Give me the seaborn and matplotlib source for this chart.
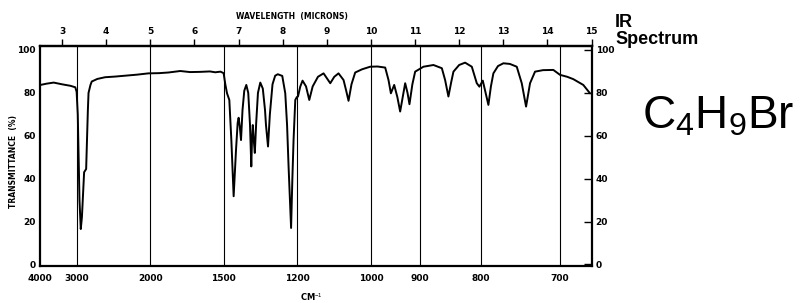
import numpy as np
import pandas as pd
import matplotlib
matplotlib.use("Agg")
import matplotlib.pyplot as plt
import seaborn as sns

# spectrum: wavelength (microns) and transmittance (%)
wavelength = [2.51, 2.65, 2.81, 3.00, 3.19, 3.30, 3.33, 3.356, 3.375, 3.395, 3.424, 3.45,
              3.469, 3.50, 3.546, 3.565, 3.585, 3.60, 3.644, 3.673, 3.80, 3.976, 4.20, 4.429,
              4.70, 4.957, 5.20, 5.41, 5.68, 5.90, 6.135, 6.35, 6.474, 6.59, 6.662, 6.70,
              6.739, 6.791, 6.837, 6.889, 6.943, 6.98, 7.002, 7.03, 7.056, 7.09, 7.13, 7.176,
              7.22, 7.26, 7.289, 7.305, 7.323, 7.345, 7.369, 7.40, 7.44, 7.493, 7.55, 7.60,
              7.622, 7.668, 7.71, 7.77, 7.83, 7.89, 7.991, 8.059, 8.10, 8.134, 8.191, 8.22,
              8.247, 8.286, 8.32, 8.347, 8.40, 8.451, 8.53, 8.603, 8.68, 8.80, 8.927, 9.079,
              9.17, 9.266, 9.38, 9.44, 9.493, 9.56, 9.644, 9.80, 9.984, 10.15, 10.324, 10.399,
              10.453, 10.528, 10.60, 10.663, 10.72, 10.777, 10.83, 10.874, 10.94, 11.003, 11.191, 11.418,
              11.608, 11.682, 11.757, 11.82, 11.871, 12.00, 12.135, 12.287, 12.40, 12.459, 12.536, 12.60,
              12.663, 12.72, 12.776, 12.88, 13.003, 13.15, 13.306, 13.419, 13.517, 13.607, 13.72, 13.90,
              14.135, 14.287, 14.45, 14.588, 14.814, 14.966]
transmittance = [83.7, 84.3, 84.8, 84.0, 83.3, 82.6, 80.5, 70.0, 50.0, 30.0, 16.5, 22.0,
                 30.0, 43.0, 44.5, 58.0, 72.0, 80.0, 83.7, 85.3, 86.5, 87.3, 87.6, 88.0,
                 88.5, 89.1, 89.2, 89.5, 90.2, 89.7, 89.8, 90.0, 89.6, 89.9, 89.2, 84.0,
                 79.8, 76.7, 58.0, 31.8, 53.5, 66.0, 68.4, 64.0, 58.0, 72.0, 81.0, 83.7,
                 80.0, 65.0, 45.7, 58.0, 65.0, 58.0, 52.0, 66.0, 80.0, 84.8, 82.0, 72.0,
                 65.0, 55.0, 70.0, 84.0, 88.0, 88.7, 87.9, 79.8, 65.0, 45.7, 17.0, 40.0,
                 58.0, 76.7, 78.0, 78.3, 83.0, 85.7, 83.0, 76.7, 83.0, 87.5, 89.1, 84.5,
                 87.5, 89.1, 86.0, 81.0, 76.3, 84.0, 89.5, 91.0, 92.2, 92.3, 91.8, 86.0,
                 79.8, 83.7, 78.0, 71.3, 78.0, 84.5, 80.0, 74.7, 84.0, 89.9, 92.2, 93.0,
                 91.5, 86.0, 78.3, 85.0, 89.9, 93.0, 94.1, 92.2, 84.5, 82.9, 85.7, 80.0,
                 74.4, 83.0, 89.1, 92.5, 93.8, 93.5, 92.2, 84.5, 73.6, 84.5, 89.9, 90.6,
                 90.7, 88.4, 87.5, 86.4, 83.7, 79.8]

wavenumbers = [4000, 3000, 2000, 1500, 1200, 1000, 900, 800, 700]
micron_ticks = list(range(3, 16))
percent_ticks = [0, 20, 40, 60, 80, 100]

df = pd.DataFrame({"um": wavelength, "T": transmittance})

sns.set_style("white")
plt.rcParams['font.family'] = ['DejaVu Sans']
plt.rcParams['mathtext.fontset'] = 'custom'
plt.rcParams['mathtext.rm'] = 'Liberation Sans'
plt.rcParams['text.color'] = 'black'
plt.rcParams['xtick.color'] = 'black'
plt.rcParams['ytick.color'] = 'black'
plt.rcParams['axes.labelcolor'] = 'black'

fig = plt.figure(figsize=(8.06, 3.03), dpi=100)
ax = fig.add_axes([40 / 806, 37.5 / 303, 551.5 / 806, 219.8 / 303])

# vertical wavenumber lines
for wn in wavenumbers[1:]:
    ax.axvline(10000 / wn, color='black', lw=0.8, zorder=1)

sns.lineplot(data=df, x="um", y="T", sort=False, estimator=None, color='black', lw=1.4, ax=ax, zorder=3)

ax.set_xlim(2.5, 15)
ax.set_ylim(-0.5, 102)
ax.set_xlabel("")
ax.set_ylabel("")

bold = dict(fontweight='bold', fontsize=6.5, color='black')

ax.set_xticks([10000 / wn for wn in wavenumbers])
ax.set_xticklabels([str(wn) for wn in wavenumbers], **bold)
ax.tick_params(axis='x', length=0, pad=6, colors='black')

ax.set_yticks(percent_ticks)
ax.set_yticklabels([str(p) for p in percent_ticks], **bold)
ax.tick_params(axis='y', direction='in', length=6, width=1.0, right=True, labelright=True, pad=3,
               colors='black')
for lbl in ax.get_yticklabels(which='both'):
    lbl.set_fontweight('bold')

top = ax.secondary_xaxis('top')
top.set_xticks(micron_ticks)
top.set_xticklabels([str(m) for m in micron_ticks], **bold)
top.tick_params(axis='x', direction='out', length=5, width=1.0, pad=2, colors='black')

for name, sp in ax.spines.items():
    sp.set_color('black')
    sp.set_linewidth(1.6)
top.spines['top'].set_linewidth(1.6)
top.spines['top'].set_color('black')

fig.text(292 / 806, 1 - 16 / 303, "WAVELENGTH  (MICRONS)", ha='center', va='center',
         fontsize=5.5, fontweight='bold')
fig.text(312 / 806, 1 - 297 / 303, "CM$^{-1}$", ha='center', va='center',
         fontsize=6, fontweight='bold')
fig.text(14 / 806, 1 - 161 / 303, "TRANSMITTANCE  (%)", ha='center', va='center',
         rotation=90, fontsize=5.5, fontweight='bold')

fig.text(615 / 806, 1 - 14 / 303, "IR\nSpectrum", ha='left', va='top',
         fontsize=13, fontweight='bold', family='Liberation Sans', linespacing=1.0)
fig.text(642 / 806, 1 - 128 / 303, "C$_4$H$_9$Br", ha='left', va='baseline',
         fontsize=33, family='Liberation Sans')

fig.savefig("out.png", dpi=100)
